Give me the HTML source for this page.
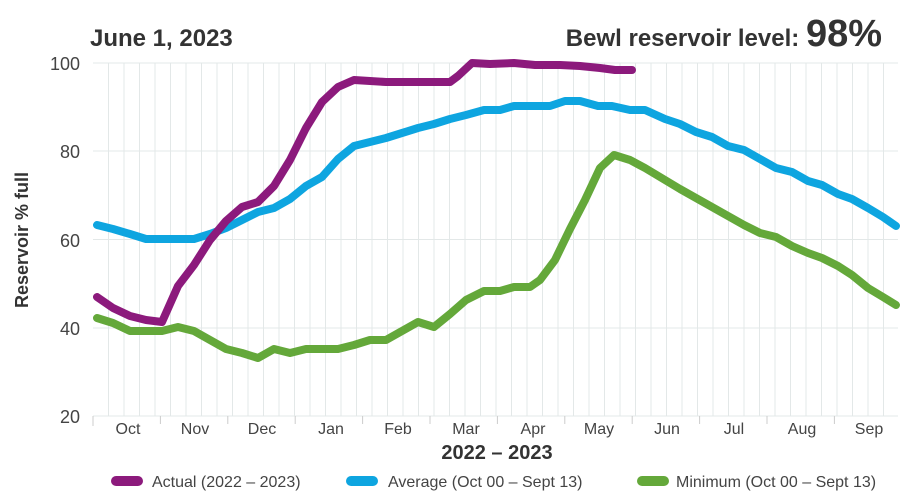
<!DOCTYPE html>
<html><head><meta charset="utf-8"><style>
body{margin:0;background:#fff;}
svg{display:block;font-family:"Liberation Sans",sans-serif;}
</style></head><body>
<svg width="905" height="500" viewBox="0 0 905 500">
<g stroke="#e3e8e8" stroke-width="1">
<line x1="93" y1="63" x2="898" y2="63"/><line x1="93" y1="151" x2="898" y2="151"/>
<line x1="93" y1="239.5" x2="898" y2="239.5"/><line x1="93" y1="328" x2="898" y2="328"/>
<line x1="93" y1="416" x2="898" y2="416"/>
<path d="M108.5 63V416M124 63V416M139.5 63V416M155 63V416M170.5 63V416M186 63V416M201.5 63V416M217 63V416M232.5 63V416M248 63V416M263.5 63V416M279 63V416M294.5 63V416M310 63V416M325.5 63V416M341 63V416M356.5 63V416M372 63V416M387.5 63V416M403 63V416M418.5 63V416M434 63V416M449.5 63V416M465 63V416M480.5 63V416M496 63V416M511.5 63V416M527 63V416M542.5 63V416M558 63V416M573.5 63V416M589 63V416M604.5 63V416M620 63V416M635.5 63V416M651 63V416M666.5 63V416M682 63V416M697.5 63V416M713 63V416M728.5 63V416M744 63V416M759.5 63V416M775 63V416M790.5 63V416M806 63V416M821.5 63V416M837 63V416M852.5 63V416M868 63V416M883.5 63V416"/>
</g>
<path stroke="#ccc" d="M93 416V426M160.4 416V424M227.8 416V424M295.2 416V424M362.6 416V424M430 416V424M497.4 416V424M564.8 416V424M632.2 416V424M699.6 416V424M767 416V424M834.4 416V424"/>
<g font-size="18" fill="#444" text-anchor="end">
<text x="80" y="70">100</text><text x="80" y="158">80</text><text x="80" y="247">60</text><text x="80" y="335">40</text><text x="80" y="423">20</text>
</g>
<g font-size="16" fill="#444" text-anchor="middle">
<text x="128" y="434">Oct</text><text x="195" y="434">Nov</text><text x="262" y="434">Dec</text><text x="331" y="434">Jan</text><text x="398" y="434">Feb</text><text x="466" y="434">Mar</text><text x="533" y="434">Apr</text><text x="599" y="434">May</text><text x="667" y="434">Jun</text><text x="734" y="434">Jul</text><text x="802" y="434">Aug</text><text x="869" y="434">Sep</text>
</g>
<text x="497" y="459" font-size="20" font-weight="bold" fill="#333" text-anchor="middle">2022 – 2023</text>
<text transform="translate(28,240) rotate(-90)" font-size="18" font-weight="bold" fill="#333" text-anchor="middle">Reservoir % full</text>
<text x="90" y="46" font-size="24" font-weight="bold" fill="#333">June 1, 2023</text>
<text x="882" y="46" font-size="24" font-weight="bold" fill="#333" text-anchor="end">Bewl reservoir level: <tspan font-size="38">98%</tspan></text>
<g fill="none" stroke-width="8" stroke-linejoin="round" stroke-linecap="round">
<polyline stroke="#64a83a" points="97,318 113,323 130,331 146,331 162,331 178,327 194,331 210,340 226,349 242,353 258,358 274,349 290,353 306,349 322,349 338,349 354,345 370,340 386,340 402,331 418,322 434,327 450,314 466,300 484,291 500,291 514,287 530,287 540,280 555,260 570,229 585,200 600,168 614,155 630,160 645,168 665,180 680,189 696,198 712,207 728,216 744,225 760,233 776,237 792,246 808,253 822,258 838,266 852,275 868,288 883,297 896,305"/>
<polyline stroke="#0ea5e0" points="97,225 113,229 130,234 146,239 162,239 178,239 194,239 210,234 226,228 242,220 258,212 274,208 290,199 306,186 322,177 338,159 354,146 370,142 386,138 402,133 418,128 434,124 450,119 466,115 484,110 500,110 514,106 530,106 550,106 565,101 580,101 598,106 612,106 630,110 645,110 665,119 680,124 696,132 712,137 728,146 744,150 760,159 776,168 792,172 808,181 822,185 838,194 852,199 868,208 883,217 896,226"/>
<polyline stroke="#8c1a7c" points="97,297 113,308 130,316 146,320 162,322 178,286 194,265 210,240 226,221 242,207 258,202 274,186 290,160 306,128 322,102 338,87 354,80 370,81 386,82 402,82 418,82 434,82 450,82 458,76 472,63 490,64 514,63 535,65 560,65 580,66 600,68 615,70 632,70"/>
</g>
<g stroke-width="10" stroke-linecap="round">
<line x1="116" y1="481" x2="138" y2="481" stroke="#8c1a7c"/>
<line x1="351" y1="481" x2="373" y2="481" stroke="#0ea5e0"/>
<line x1="642" y1="481" x2="664" y2="481" stroke="#64a83a"/>
</g>
<g font-size="16" fill="#444">
<text x="152" y="487">Actual (2022 – 2023)</text>
<text x="388" y="487">Average (Oct 00 – Sept 13)</text>
<text x="676" y="487">Minimum (Oct 00 – Sept 13)</text>
</g>
</svg>
</body></html>
